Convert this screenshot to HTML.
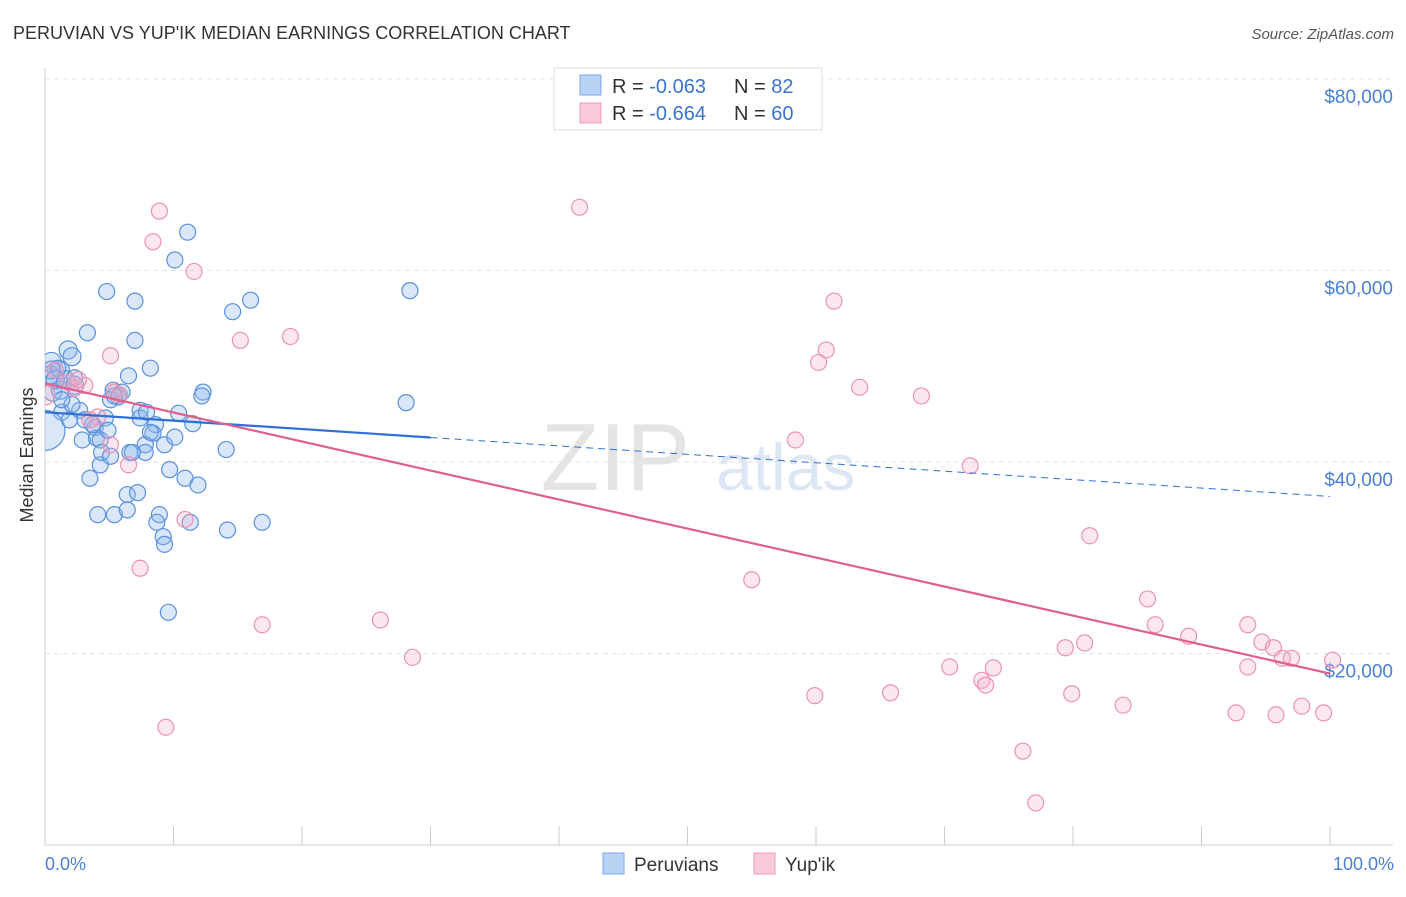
<!DOCTYPE html>
<html><head><meta charset="utf-8"><style>
body{margin:0;background:#fff;font-family:"Liberation Sans",sans-serif;}
svg text{font-family:"Liberation Sans",sans-serif;}
</style></head><body>
<svg id="c" width="1406" height="892" xmlns="http://www.w3.org/2000/svg">
<defs><clipPath id="plotclip"><rect x="45" y="60" width="1360" height="786"/></clipPath></defs>
<text x="13" y="39" font-size="18" fill="#333">PERUVIAN VS YUP'IK MEDIAN EARNINGS CORRELATION CHART</text>
<text x="1394" y="39" font-size="15" fill="#555" font-style="italic" text-anchor="end">Source: ZipAtlas.com</text>
<text x="690" y="490" font-size="96" fill="#e4e4e4" text-anchor="end" font-family="Liberation Serif">ZIP</text>
<text x="716" y="490" font-size="66" fill="#dde6f4">atlas</text>
<g id="grid"></g><g id="pts" clip-path="url(#plotclip)"></g><g id="lines"></g>
<text transform="translate(33,455) rotate(-90)" font-size="18" fill="#333" text-anchor="middle">Median Earnings</text>
<text x="45" y="870" font-size="18" fill="#4a7fd4">0.0%</text>
<text x="1394" y="870" font-size="18" fill="#4a7fd4" text-anchor="end">100.0%</text>
<g>
<rect x="554" y="68" width="268" height="62" fill="#fff" stroke="#ddd"/>
<rect x="580" y="75" width="21" height="20" fill="#b9d3f5" stroke="#7aa8e6"/>
<rect x="580" y="103" width="21" height="20" fill="#fac9d8" stroke="#ee9ab5"/>
<text x="612" y="93" font-size="20" fill="#333">R = <tspan fill="#3a74d0">-0.063</tspan><tspan x="734">N = </tspan><tspan fill="#3a74d0">82</tspan></text>
<text x="612" y="120" font-size="20" fill="#333">R = <tspan fill="#3a74d0">-0.664</tspan><tspan x="734">N = </tspan><tspan fill="#3a74d0">60</tspan></text>
</g>
<g>
<rect x="603" y="853" width="21" height="21" fill="#b9d3f5" stroke="#7aa8e6"/>
<text x="634" y="871" font-size="19" fill="#333">Peruvians</text>
<rect x="754" y="853" width="21" height="21" fill="#fac9d8" stroke="#ee9ab5"/>
<text x="785" y="871" font-size="19" fill="#333">Yup'ik</text>
</g>
</svg>
<script>
const yTicks=[20000,40000,60000,80000];
const yTickLabels=["$20,000","$40,000","$60,000","$80,000"];
const xTicks=[0,10,20,30,40,50,60,70,80,90,100];
const peruX=[0.5,0.4,0.6,1.2,1.8,2.1,1.6,2.3,3.3,4.8,7.0,8.2,7.0,5.3,6.0,6.5,5.7,7.4,7.4,10.4,11.1,10.1,14.6,16.0,28.4,28.1,12.3,12.2,11.5,8.6,8.4,7.8,6.6,7.8,14.1,9.7,10.9,11.9,3.5,4.3,2.7,3.1,3.9,4.0,2.9,4.3,4.7,5.8,5.1,1.3,2.1,8.9,8.7,11.3,16.9,14.2,4.1,5.4,6.4,6.4,7.2,9.2,9.3,9.6,0,2.3,1.0,1.9,3.7,4.9,7.9,8.2,1.2,1.3,4.4,5.1,6.8,5.4,9.3,10.1,0.5,0.8];
const peruY=[50.4,49.1,47.3,49.6,51.7,51.0,48.6,48.0,53.5,57.8,56.8,49.8,52.7,47.5,47.3,49.0,46.8,45.4,44.6,45.1,64.0,61.1,55.7,56.9,57.9,46.2,47.3,46.9,44.0,43.9,43.0,41.8,41.0,41.0,41.3,39.2,38.3,37.6,38.3,39.7,45.4,44.4,43.6,42.5,42.3,42.3,44.6,47.0,46.5,45.2,46.0,34.5,33.7,33.7,33.7,32.9,34.5,34.5,35.0,36.6,36.8,32.2,31.4,24.3,43.3,48.8,49.8,44.4,43.9,43.3,45.2,43.1,47.5,46.5,41.0,40.6,41.0,46.9,41.8,42.6,49.6,48.6];
const peruR=[10,9,9,9,9,9,9,9,8,8,8,8,8,8,8,8,8,8,8,8,8,8,8,8,8,8,8,8,8,8,8,8,8,8,8,8,8,8,8,8,8,8,8,8,8,8,8,8,8,8,8,8,8,8,8,8,8,8,8,8,8,8,8,8,20,8,8,8,8,8,8,8,9,8,8,8,8,8,8,8,9,9];
const yupX=[8.9,41.6,8.4,11.6,15.2,19.1,61.4,60.8,60.2,63.4,68.2,5.1,0.8,1.8,2.3,3.1,4.1,5.4,5.8,5.1,6.5,10.9,7.4,16.9,26.1,28.6,9.4,58.4,55.0,59.9,65.8,70.4,72.9,73.2,73.8,72.0,81.3,85.8,79.4,80.9,79.9,76.1,77.1,83.9,86.4,89.0,92.7,93.6,94.7,93.6,95.6,96.3,97.0,95.8,97.8,99.5,100.2,0,3.5,2.6];
const yupY=[66.2,66.6,63.0,59.9,52.7,53.1,56.8,51.7,50.4,47.8,46.9,51.1,49.6,48.3,47.7,48.0,44.7,47.3,47.0,41.8,39.7,34.0,28.9,23.0,23.5,19.6,12.3,42.3,27.7,15.6,15.9,18.6,17.2,16.7,18.5,39.6,32.3,25.7,20.6,21.1,15.8,9.8,4.4,14.6,23.0,21.8,13.8,23.0,21.2,18.6,20.6,19.5,19.5,13.6,14.5,13.8,19.3,47.0,44.4,48.6];
const peruTrend=[45.2,36.4];
const yupTrend=[48.2,17.9];
const sx=v=>45+v*12.85;
const sy=v=>845-v*9.575;
const NS="http://www.w3.org/2000/svg";
function mk(tag,attrs,parent){const e=document.createElementNS(NS,tag);for(const k in attrs)e.setAttribute(k,attrs[k]);parent.appendChild(e);return e;}
const grid=document.getElementById('grid');
let ax=mk('line',{x1:45,x2:45,y1:68,y2:845,stroke:'#ccc'},grid);


let bx=mk('line',{x1:45,x2:1393,y1:845,y2:845,stroke:'#ccc'},grid);


yTicks.forEach((t,i)=>{
 const g=mk('line',{x1:45,x2:1393,y1:sy(t/1000),y2:sy(t/1000),stroke:'#e3e3e3','stroke-dasharray':'5,4'},grid);
 
 
 const tx=mk('text',{x:1393,y:sy(t/1000)+24,'font-size':19,fill:'#4a7fd4','text-anchor':'end'},grid);
 tx.textContent=yTickLabels[i];
 
 
});
mk('line',{x1:45,x2:1393,y1:79,y2:79,stroke:'#e3e3e3','stroke-dasharray':'5,4'},grid);
xTicks.forEach(t=>{
 const l=mk('line',{x1:sx(t),x2:sx(t),y1:826,y2:845,stroke:'#ccc'},grid);
 
 
});
const pts=document.getElementById('pts');
peruX.forEach((x,i)=>{
 const c=mk('circle',{cx:sx(x),cy:sy(peruY[i]),r:peruR[i],fill:'rgba(140,182,238,0.33)',stroke:'#5a90dc','stroke-width':1.2},pts);
 
 
});
yupX.forEach((x,i)=>{
 const c=mk('circle',{cx:sx(x),cy:sy(yupY[i]),r:i==57?10:8,fill:'rgba(245,175,198,0.3)',stroke:'#eb93b2','stroke-width':1.2},pts);
 
 
});
const lines=document.getElementById('lines');
const pAt=p=>peruTrend[0]+(peruTrend[1]-peruTrend[0])*p/100;
let l1=mk('line',{x1:sx(0),y1:sy(pAt(0)),x2:sx(30),y2:sy(pAt(30)),stroke:'#2f6fd6','stroke-width':2.2},lines);


let l2=mk('line',{x1:sx(30),y1:sy(pAt(30)),x2:sx(100),y2:sy(pAt(100)),stroke:'#2f6fd6','stroke-width':1,'stroke-dasharray':'7,5'},lines);


let l3=mk('line',{x1:sx(0),y1:sy(yupTrend[0]),x2:sx(100),y2:sy(yupTrend[1]),stroke:'#e0608d','stroke-width':2.2},lines);


</script>
</body></html>
